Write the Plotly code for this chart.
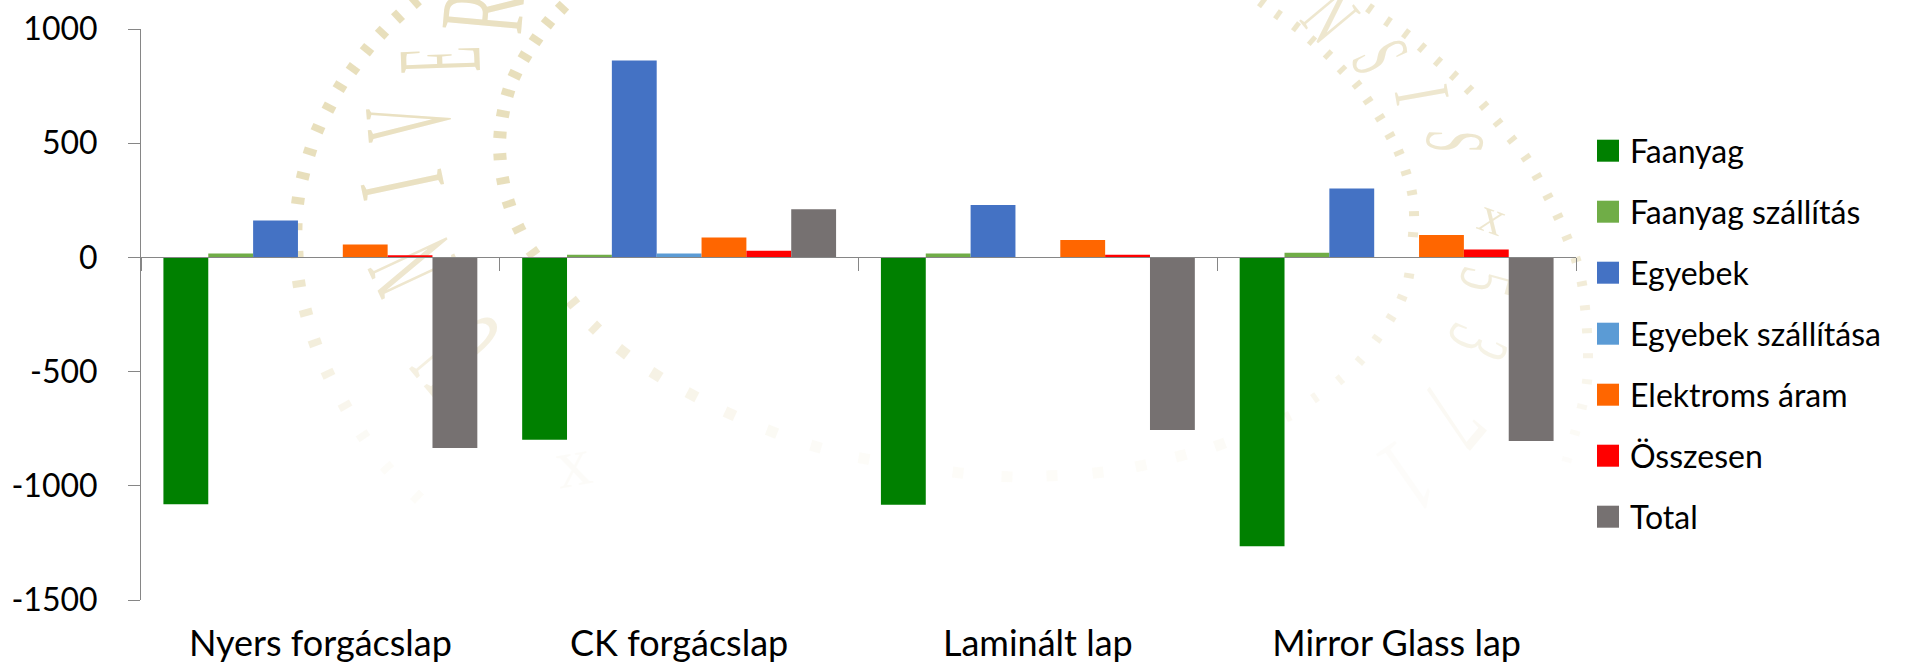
import math
from urllib.parse import quote
import plotly.graph_objects as go

categories = ["Nyers forgácslap", "CK forgácslap", "Laminált lap", "Mirror Glass lap"]
faanyag = [-1081, -798, -1083, -1265]
faanyag_szallitas = [17, 12, 17, 20]
egyebek = [162, 862, 229, 302]
egyebek_szallitasa = [0, 17, 0, 0]
elektroms_aram = [57, 87, 76, 98]
osszesen = [9, 29, 12, 35]
total = [-834, 211, -756, -804]

series_names = ["Faanyag", "Faanyag szállítás", "Egyebek", "Egyebek szállítása",
                "Elektroms áram", "Összesen", "Total"]
series_values = [faanyag, faanyag_szallitas, egyebek, egyebek_szallitasa,
                 elektroms_aram, osszesen, total]
series_colors = ["#008000", "#70AD47", "#4472C4", "#5B9BD5", "#FF6600", "#FF0000", "#767171"]

y_ticks = [1000, 500, 0, -500, -1000, -1500]

W, H = 1921, 670
L, R, T, B = 141, 1576, 29.3, 600.3
FONT = "Lato, Carlito, Calibri, sans-serif"

# ---- decorative seal behind the chart (the reference has a faded watermark) ----
inner_ring = [(562,8),(548,23),(536,40),(525,57),(515,75),(508,93),(503,114),(500,135),(500,157),
              (503,181),(509,204),(519,229),(533,253),(573,303),(595,328),(623,352),(656,375),
              (692,395),(730,414),(772,432),(816,447),(864,459),(958,473),(1007,477),(1052,476),
              (1098,473),(1141,466),(1181,456),(1220,445),(1288,417),(1315,398),(1340,380),
              (1360,361),(1377,339),(1391,318),(1402,298),(1409,276),(1413,235),(1414,214),
              (1412,193),(1406,173),(1399,153),(1390,136),(1380,118),(1368,101),(1357,85),
              (1342,70),(1328,55),(1312,41),(1296,27),(1278,15),(1262,3)]
outer_ring_left = [(415,2),(398,17),(382,33),(367,50),(353,69),(340,87),(329,108),(318,129),
                   (310,152),(303,176),(298,201),(296,227),(297,255),(299,284),(306,313),
                   (315,343),(328,374),(345,406),(363,436),(387,468),(417,497)]
outer_ring_right = [(1370,9),(1388,22),(1406,34),(1422,48),(1438,62),(1454,76),(1469,90),
                    (1484,106),(1498,123),(1512,140),(1526,158),(1537,177),(1548,197),
                    (1558,217),(1567,238),(1576,260),(1582,284),(1585,308),(1587,331),
                    (1588,356),(1587,382),(1582,407),(1575,433),(1567,460)]
seal_letters = [("R",483,12,-85,.62,1.2),("E",440,60,-92,.42,1.2),("V",408,123,-95,.48,1.25),
                ("I",402,185,-102,.6,1.25),("N",413,267,-115,.5,1.3),("U",457,353,-130,.55,1.45),
                ("x",573,463,-10,.7,.7),
                ("N",1330,17,50,.5,.8),("S",1380,57,65,.4,.85),("I",1422,95,80,.5,.8),
                ("S",1455,142,92,.4,.85),("x",1493,217,20,.5,.5),("5",1487,282,105,.45,.8),
                ("3",1478,343,115,.45,.9),("7",1452,417,130,.65,1.1),("1",1407,477,145,.65,1.1)]

def fade(x, y):
    base = max(0.1, min(1.0, 1.0 - 0.9 * (y - 220) / 230))
    return base * (0.7 if x > 1250 else 0.9)

def dots(points):
    out = []
    for i, (x, y) in enumerate(points):
        x0, y0 = points[max(i - 1, 0)]
        x1, y1 = points[min(i + 1, len(points) - 1)]
        ang = math.degrees(math.atan2(y1 - y0, x1 - x0))
        if x < 600:
            rw, rh = 7, 13
        elif x < 1250:
            rw, rh = 11, 11
        else:
            rw, rh = 5, 10
        out.append(f'<rect x="{-rw/2}" y="{-rh/2}" width="{rw}" height="{rh}" fill="#E6DBB5" '
                   f'opacity="{fade(x, y):.2f}" transform="translate({x},{y}) rotate({ang:.1f})"/>')
    return "".join(out)

letters_svg = "".join(
    f'<text y="33" font-size="100" text-anchor="middle" font-family="Liberation Serif" fill="#E8DEBC" '
    f'opacity="{fade(cx, cy):.2f}" transform="translate({cx},{cy}) rotate({r}) scale({sx},{sy})">{ch}</text>'
    for ch, cx, cy, r, sx, sy in seal_letters)

seal_svg = (f'<svg xmlns="http://www.w3.org/2000/svg" width="{W}" height="{H}" viewBox="0 0 {W} {H}">'
            + dots(inner_ring) + dots(outer_ring_left) + dots(outer_ring_right) + letters_svg + '</svg>')

def px(x):
    return (x - L) / (R - L)

def py(y):
    return (B - y) / (B - T)

fig = go.Figure()
for name, vals, col in zip(series_names, series_values, series_colors):
    fig.add_bar(x=categories, y=vals, name=name, marker=dict(color=col, line_width=0), showlegend=False)

# legend drawn at the reference's scale
legend_y = [151, 212, 273, 334, 395, 456, 517]
shapes = []
annotations = []
for name, col, ly in zip(series_names, series_colors, legend_y):
    shapes.append(dict(type="rect", xref="paper", yref="paper", x0=px(1597), x1=px(1619),
                       y0=py(ly + 11), y1=py(ly - 11), fillcolor=col, line_width=0))
    annotations.append(dict(xref="paper", yref="paper", x=px(1628), y=py(ly), text=name, showarrow=False,
                            xanchor="left", yanchor="middle", font=dict(family=FONT, size=32, color="#000000")))

fig.update_layout(
    width=W, height=H, autosize=False,
    margin=dict(l=L, r=W - R, t=T, b=H - B, pad=0),
    paper_bgcolor="#FFFFFF", plot_bgcolor="rgba(0,0,0,0)",
    barmode="group", bargap=0.125, bargroupgap=0,
    showlegend=False,
    font=dict(family=FONT, size=30, color="#000000"),
    shapes=shapes, annotations=annotations,
    images=[dict(source="data:image/svg+xml," + quote(seal_svg), xref="paper", yref="paper",
                 x=px(0), y=py(0), sizex=W / (R - L), sizey=H / (B - T),
                 xanchor="left", yanchor="top", sizing="stretch", layer="below")],
    xaxis=dict(type="category", categoryorder="array", categoryarray=categories, automargin=False,
               anchor="free", position=1500 / 2500, showgrid=False, zeroline=False,
               showline=True, linecolor="#868686", linewidth=1,
               ticks="outside", tickson="boundaries", ticklen=13, tickcolor="#868686", tickwidth=1,
               ticklabelstandoff=354, tickfont=dict(family=FONT, size=36, color="#000000")),
    yaxis=dict(range=[-1500, 1000], tickvals=y_ticks, ticktext=[str(v) for v in y_ticks], automargin=False,
               showgrid=False, zeroline=False, showline=True, linecolor="#868686", linewidth=1,
               ticks="outside", ticklen=12, tickcolor="#868686", tickwidth=1,
               ticklabelstandoff=24, tickfont=dict(family=FONT, size=32, color="#000000")),
)

fig.write_html("out.html", config=dict(displayModeBar=False),
               post_script="document.body.style.margin='0';document.body.style.overflow='hidden';")
